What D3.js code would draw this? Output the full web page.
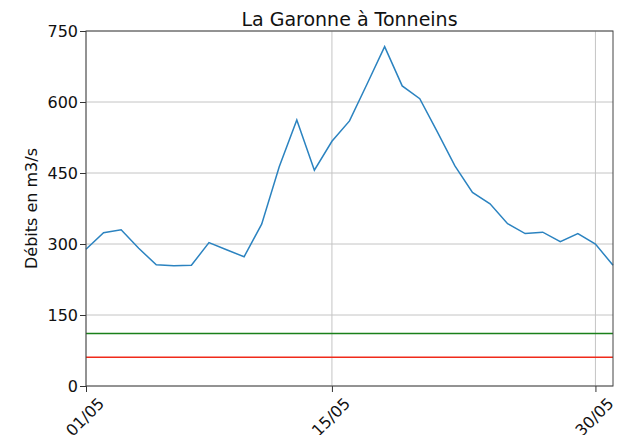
<!DOCTYPE html>
<html>
<head>
<meta charset="utf-8">
<script src="https://cdn.jsdelivr.net/npm/d3@7"></script>
<style>
  body { margin: 0; background: #fff; }
  text { font-family: "DejaVu Sans", sans-serif; fill: #111; }
</style>
</head>
<body>
<script>
// daily flow, May (m3/s)
var days = d3.range(1, 32);
var debits = [289, 324, 330, 291, 256, 254, 255, 303, 288, 273,
              342, 463, 562, 456, 517, 560, 638, 717, 634, 607,
              537, 465, 409, 385, 343, 322, 325, 305, 322, 300, 255];
var yTicks = [0, 150, 300, 450, 600, 750];
var xTickDays = [1, 15, 30];
var seuilVert = 111;
var seuilRouge = 61;

var w = 618, h = 435;
var margin = {top: 31, right: 5, bottom: 49, left: 86};

var svg = d3.select('body').append('svg')
            .attr('width', w)
            .attr('height', h);

var x = d3.scaleLinear()
          .domain([1, 31])
          .range([margin.left, w - margin.right]);
var y = d3.scaleLinear()
          .domain([0, 750])
          .range([h - margin.bottom, margin.top]);

// grid
svg.append('g')
   .selectAll('line')
   .data(yTicks)
   .enter()
   .append('line')
   .attr('x1', x(1)).attr('x2', x(31))
   .attr('y1', function(d){ return y(d); })
   .attr('y2', function(d){ return y(d); })
   .attr('stroke', '#c4c4c4')
   .attr('stroke-width', 1);

svg.append('g')
   .selectAll('line')
   .data(xTickDays)
   .enter()
   .append('line')
   .attr('x1', function(d){ return x(d); })
   .attr('x2', function(d){ return x(d); })
   .attr('y1', y(0)).attr('y2', y(750))
   .attr('stroke', '#c4c4c4')
   .attr('stroke-width', 1);

// thresholds
svg.append('line')
   .attr('x1', x(1)).attr('x2', x(31))
   .attr('y1', y(seuilVert)).attr('y2', y(seuilVert))
   .attr('stroke', '#1a801a').attr('stroke-width', 1.5);
svg.append('line')
   .attr('x1', x(1)).attr('x2', x(31))
   .attr('y1', y(seuilRouge)).attr('y2', y(seuilRouge))
   .attr('stroke', '#f02a1a').attr('stroke-width', 1.5);

// the flow line
var line = d3.line()
             .x(function(d, i){ return x(days[i]); })
             .y(function(d){ return y(d); });

svg.append('path')
   .datum(debits)
   .attr('d', line)
   .attr('fill', 'none')
   .attr('stroke', '#2b83c0')
   .attr('stroke-width', 1.5);

// axes
var yAxis = d3.axisLeft(y).tickValues(yTicks).tickSize(6).tickPadding(2);
svg.append('g')
   .attr('transform', 'translate(' + margin.left + ',0)')
   .call(yAxis)
   .call(function(g){
     g.select('.domain').remove();
     g.selectAll('line').attr('stroke', '#333');
     g.selectAll('text').style('font-size', '16px').attr('fill', '#111');
   });

var xAxis = d3.axisBottom(x).tickValues(xTickDays).tickSize(6).tickFormat('');
svg.append('g')
   .attr('transform', 'translate(0,' + (h - margin.bottom) + ')')
   .call(xAxis)
   .call(function(g){
     g.select('.domain').remove();
     g.selectAll('line').attr('stroke', '#333');
   });

svg.append('g')
   .selectAll('text')
   .data(xTickDays)
   .enter()
   .append('text')
   .attr('transform', function(d){
     return 'translate(' + (x(d) - 1) + ',' + (y(0) + 31) + ') rotate(-45)'; })
   .attr('text-anchor', 'middle')
   .attr('dy', '0.35em')
   .style('font-size', '16px')
   .text(function(d){ return d3.format('02')(d) + '/05'; });

// frame
svg.append('rect')
   .attr('x', x(1)).attr('y', y(750))
   .attr('width', x(31) - x(1))
   .attr('height', y(0) - y(750))
   .attr('fill', 'none')
   .attr('stroke', '#444')
   .attr('stroke-width', 1);

svg.append('text')
   .attr('x', (x(1) + x(31)) / 2)
   .attr('y', 26)
   .attr('text-anchor', 'middle')
   .style('font-size', '19px')
   .text('La Garonne à Tonneins');

svg.append('text')
   .attr('transform', 'translate(37,' + ((y(0) + y(750)) / 2) + ') rotate(-90)')
   .attr('text-anchor', 'middle')
   .style('font-size', '16px')
   .text('Débits en m3/s');
</script>
</body>
</html>
